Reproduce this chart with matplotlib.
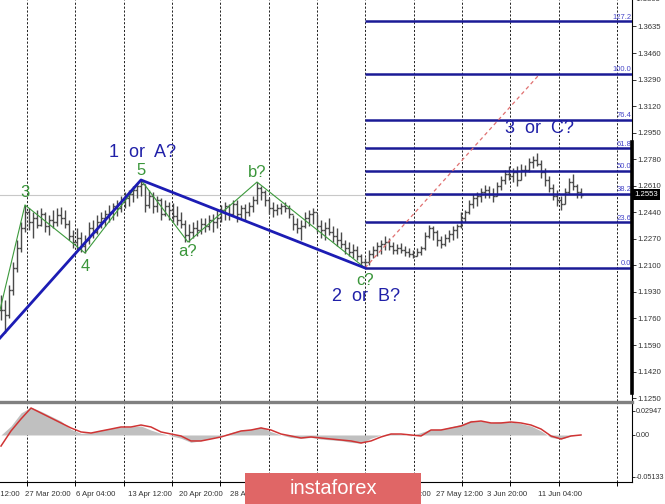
import numpy as np
import matplotlib.pyplot as plt
from matplotlib.patches import Rectangle
from matplotlib.lines import Line2D

plt.rcParams['font.family'] = ['Liberation Sans', 'DejaVu Sans']

# GBP/USD bars (high / low / close), one bar every 4 px of the screenshot
hi = [1.1911, 1.1879, 1.1975, 1.2122, 1.2263, 1.2379, 1.2488, 1.2468, 1.2443, 1.2456,
      1.2468, 1.2443, 1.2424, 1.2456, 1.2468, 1.2475, 1.2456, 1.2392, 1.2327, 1.2340,
      1.2315, 1.2295, 1.2379, 1.2392, 1.2424, 1.2443, 1.2456, 1.2488, 1.2500, 1.2520,
      1.2545, 1.2571, 1.2584, 1.2609, 1.2629, 1.2648, 1.2622, 1.2584, 1.2571, 1.2545,
      1.2533, 1.2520, 1.2507, 1.2500, 1.2481, 1.2443, 1.2392, 1.2366, 1.2379, 1.2392,
      1.2404, 1.2404, 1.2424, 1.2430, 1.2456, 1.2488, 1.2507, 1.2494, 1.2520, 1.2520,
      1.2488, 1.2494, 1.2507, 1.2545, 1.2635, 1.2609, 1.2584, 1.2533, 1.2507, 1.2494,
      1.2500, 1.2507, 1.2488, 1.2424, 1.2404, 1.2392, 1.2443, 1.2456, 1.2468, 1.2430,
      1.2392, 1.2379, 1.2404, 1.2353, 1.2340, 1.2315, 1.2263, 1.2250, 1.2238, 1.2225,
      1.2174, 1.2148, 1.2199, 1.2225, 1.2250, 1.2263, 1.2289, 1.2276, 1.2250, 1.2238,
      1.2244, 1.2225, 1.2212, 1.2199, 1.2212, 1.2225, 1.2315, 1.2359, 1.2353, 1.2327,
      1.2289, 1.2302, 1.2327, 1.2353, 1.2366, 1.2443, 1.2456, 1.2520, 1.2558, 1.2571,
      1.2597, 1.2616, 1.2609, 1.2597, 1.2635, 1.2674, 1.2712, 1.2738, 1.2725, 1.2738,
      1.2750, 1.2744, 1.2789, 1.2802, 1.2821, 1.2776, 1.2725, 1.2674, 1.2622, 1.2584,
      1.2545, 1.2597, 1.2661, 1.2686, 1.2622, 1.2597]
lo = [1.1751, 1.1667, 1.1763, 1.1911, 1.2058, 1.2186, 1.2315, 1.2327, 1.2276, 1.2340,
      1.2353, 1.2315, 1.2295, 1.2340, 1.2353, 1.2366, 1.2340, 1.2263, 1.2212, 1.2199,
      1.2186, 1.2180, 1.2238, 1.2276, 1.2302, 1.2340, 1.2353, 1.2379, 1.2392, 1.2417,
      1.2443, 1.2468, 1.2481, 1.2507, 1.2533, 1.2545, 1.2443, 1.2468, 1.2436, 1.2443,
      1.2392, 1.2417, 1.2392, 1.2379, 1.2359, 1.2340, 1.2250, 1.2250, 1.2276, 1.2289,
      1.2302, 1.2315, 1.2327, 1.2315, 1.2340, 1.2379, 1.2392, 1.2392, 1.2417, 1.2379,
      1.2404, 1.2392, 1.2417, 1.2443, 1.2494, 1.2520, 1.2481, 1.2430, 1.2411, 1.2424,
      1.2430, 1.2443, 1.2404, 1.2327, 1.2308, 1.2263, 1.2340, 1.2353, 1.2366, 1.2315,
      1.2276, 1.2263, 1.2295, 1.2250, 1.2225, 1.2212, 1.2174, 1.2161, 1.2148, 1.2135,
      1.2097, 1.2084, 1.2103, 1.2148, 1.2161, 1.2174, 1.2199, 1.2199, 1.2174, 1.2174,
      1.2180, 1.2161, 1.2154, 1.2148, 1.2161, 1.2167, 1.2199, 1.2276, 1.2263, 1.2225,
      1.2212, 1.2225, 1.2250, 1.2263, 1.2276, 1.2340, 1.2379, 1.2430, 1.2468, 1.2481,
      1.2507, 1.2533, 1.2533, 1.2507, 1.2545, 1.2584, 1.2622, 1.2648, 1.2635, 1.2609,
      1.2648, 1.2674, 1.2699, 1.2725, 1.2738, 1.2661, 1.2609, 1.2571, 1.2520, 1.2481,
      1.2456, 1.2494, 1.2558, 1.2584, 1.2533, 1.2533]
cl = [1.1815, 1.1783, 1.1943, 1.2084, 1.2212, 1.2340, 1.2443, 1.2379, 1.2404, 1.2359,
      1.2430, 1.2353, 1.2392, 1.2379, 1.2424, 1.2404, 1.2366, 1.2289, 1.2250, 1.2276,
      1.2225, 1.2263, 1.2340, 1.2315, 1.2379, 1.2404, 1.2430, 1.2443, 1.2481, 1.2468,
      1.2520, 1.2533, 1.2558, 1.2584, 1.2609, 1.2622, 1.2488, 1.2545, 1.2481, 1.2520,
      1.2430, 1.2481, 1.2456, 1.2417, 1.2392, 1.2366, 1.2295, 1.2315, 1.2340, 1.2327,
      1.2366, 1.2353, 1.2392, 1.2379, 1.2404, 1.2456, 1.2481, 1.2430, 1.2494, 1.2430,
      1.2468, 1.2443, 1.2481, 1.2520, 1.2597, 1.2571, 1.2520, 1.2468, 1.2456, 1.2468,
      1.2481, 1.2468, 1.2430, 1.2366, 1.2340, 1.2353, 1.2404, 1.2430, 1.2443, 1.2353,
      1.2327, 1.2340, 1.2315, 1.2289, 1.2263, 1.2238, 1.2212, 1.2186, 1.2199, 1.2161,
      1.2122, 1.2122, 1.2174, 1.2199, 1.2225, 1.2238, 1.2250, 1.2225, 1.2199, 1.2212,
      1.2199, 1.2186, 1.2174, 1.2161, 1.2186, 1.2212, 1.2289, 1.2340, 1.2315, 1.2263,
      1.2238, 1.2276, 1.2302, 1.2327, 1.2353, 1.2404, 1.2443, 1.2494, 1.2533, 1.2545,
      1.2571, 1.2584, 1.2558, 1.2545, 1.2609, 1.2648, 1.2686, 1.2674, 1.2699, 1.2648,
      1.2712, 1.2712, 1.2763, 1.2776, 1.2750, 1.2699, 1.2648, 1.2597, 1.2545, 1.2520,
      1.2494, 1.2571, 1.2635, 1.2609, 1.2571, 1.2553]
bid = 1.2553

# wave marking
big_x = [-0.25, 35, 91]
big_y = [1.1635, 1.2648, 1.2084]
small_x = [-0.25, 6, 21, 35, 46.75, 64, 91]
small_y = [1.1815, 1.2488, 1.2180, 1.2648, 1.2250, 1.2635, 1.2084]
small_lbl = ['', '3', '4', '5', 'a?', 'b?', 'c?']
red_x = [91, 134.25]
red_y = [1.2084, 1.3315]

# fibonacci grid
fib_lo = 1.2084
fib_hi = 1.3327
fib_lv = [0.0, 23.6, 38.2, 50.0, 61.8, 76.4, 100.0, 127.2]

# price scale labels
yt = [1.3635, 1.3460, 1.3290, 1.3120, 1.2950, 1.2780, 1.2610, 1.2440,
      1.2270, 1.2100, 1.1930, 1.1760, 1.1590, 1.1420, 1.1250]

# oscillator, one value every 2.5 bars
osc_x = list(np.arange(0, 146, 2.5))
hist = [0.0000, 0.0110, 0.0270, 0.0340, 0.0290, 0.0230, 0.0170, 0.0070, 0.0020, 0.0030,
        0.0060, 0.0080, 0.0100, 0.0100, 0.0110, 0.0060, 0.0020, -0.0010, -0.0040, -0.0090,
        -0.0070, -0.0040, -0.0010, 0.0030, 0.0060, 0.0070, 0.0100, 0.0040, 0.0000, -0.0030,
        -0.0040, -0.0030, -0.0050, -0.0060, -0.0070, -0.0090, -0.0100, -0.0040, 0.0000, 0.0020,
        0.0010, -0.0010, 0.0030, 0.0070, 0.0070, 0.0100, 0.0130, 0.0180, 0.0170, 0.0150,
        0.0160, 0.0160, 0.0140, 0.0110, 0.0050, -0.0030, -0.0050, -0.0010, 0.0000]
sig = [-0.0135, 0.0049, 0.0196, 0.0330, 0.0269, 0.0208, 0.0147, 0.0086, 0.0037, 0.0024,
       0.0049, 0.0073, 0.0098, 0.0098, 0.0122, 0.0098, 0.0037, 0.0012, -0.0012, -0.0073,
       -0.0073, -0.0049, -0.0024, 0.0012, 0.0049, 0.0061, 0.0086, 0.0061, 0.0012, -0.0012,
       -0.0037, -0.0024, -0.0037, -0.0049, -0.0061, -0.0073, -0.0098, -0.0073, -0.0024, 0.0012,
       0.0012, 0.0000, -0.0012, 0.0061, 0.0061, 0.0086, 0.0110, 0.0159, 0.0171, 0.0147,
       0.0147, 0.0159, 0.0147, 0.0122, 0.0073, -0.0012, -0.0049, -0.0012, 0.0000]

time_lbl = ['20 Mar 12:00', '27 Mar 20:00', '6 Apr 04:00', '13 Apr 12:00', '20 Apr 20:00',
            '28 Apr 04:00', '5 May 12:00', '12 May 20:00', '20 May 04:00', '27 May 12:00',
            '3 Jun 20:00', '11 Jun 04:00']

W, H = 665, 504
grid_x = [6.43, 18.5, 30.68, 42.75, 54.75, 66.9, 79, 91, 103.15, 115.25, 127.25, 139.4, 153.9]
lbl_px = [-26, 25, 76, 127.6, 179, 230, 281.5, 333, 384, 436, 487, 538]

fig = plt.figure(figsize=(W / 100, H / 100), dpi=100)
ax = fig.add_axes([0, 1 - 401 / H, 632 / W, 401 / H])
ax2 = fig.add_axes([0, 1 - 482 / H, 632 / W, 78 / H])

x = np.arange(len(cl))
op = [cl[0]] + cl[:-1]
bar_c = '#4a4a4a'
ax.vlines(x, lo, hi, color=bar_c, lw=1.0, zorder=3)
ax.hlines(op, x - 0.45, x, color=bar_c, lw=1.0, zorder=3)
ax.hlines(cl, x, x + 0.45, color=bar_c, lw=1.0, zorder=3)

dash = (0, (2.2, 1.8))
for a in (ax, ax2):
    for g in grid_x:
        a.axvline(g, color='#202020', lw=0.7, ls=dash, zorder=1)

ax.axhline(bid, color='#c8c8c8', lw=0.8, zorder=2)

# fibonacci levels
for lv in fib_lv:
    p = fib_lo + (fib_hi - fib_lo) * lv / 100
    ax.plot([91, 157.75], [p, p], color='#1a1a96', lw=1.8, zorder=4, solid_capstyle='butt')
    ax.text(157.6, p + 0.0004, f'{lv:.1f}', ha='right', va='bottom', fontsize=5.5,
            color='#4646c8', zorder=5)

ax.plot(red_x, red_y, color='#e07070', lw=0.9, ls=(0, (3, 2.5)), zorder=4)
ax.plot(small_x, small_y, color='#3c9a3c', lw=0.8, zorder=4)
ax.plot(big_x, big_y, color='#1c1cb4', lw=2.0, zorder=5)

green = '#3a963a'
offs = [0, 9, -10, 6.5, -6.5, 6.5, -9]
for xx, yy, t, o in zip(small_x, small_y, small_lbl, offs):
    if t:
        ax.annotate(t, (xx, yy), xytext=(0, o), textcoords='offset points',
                    ha='center', va='center', fontsize=12, color=green, zorder=6)

blue = '#2020a8'
ax.annotate('1  or  A?', (35.5, 1.2648), xytext=(0, 20), textcoords='offset points',
            ha='center', va='center', fontsize=13, color=blue, zorder=6)
ax.annotate('2  or  B?', (91.2, 1.2084), xytext=(0, -20.5), textcoords='offset points',
            ha='center', va='center', fontsize=13, color=blue, zorder=6)
ax.text(134.7, 1.2975, '3  or  C?', ha='center', va='center', fontsize=13, color=blue, zorder=6)

ax.set_xlim(-0.25, 157.75)
ax.set_ylim(1.1231, 1.3802)
ax.set_xticks([])
ax.yaxis.tick_right()
ax.set_yticks(yt)
ax.set_yticklabels([f'{v:.4f}' for v in yt])
ax.tick_params(axis='y', length=3, width=0.7, labelsize=5.6, pad=1.2, colors='#333333')
ax.text(1.0, 1.3805, '  1.3805', transform=ax.get_yaxis_transform(), ha='left', va='center',
        fontsize=5.6, color='#333333', clip_on=False)
for s in ('top', 'left', 'bottom'):
    ax.spines[s].set_visible(False)
ax.spines['right'].set_linewidth(0.8)
ax.plot([1, 1], [1 - 393 / 401, 1 - 142 / 401], transform=ax.transAxes, color='black',
        lw=2.6, clip_on=False, zorder=6)
ax.text(1.004, bid, '1.2553', transform=ax.get_yaxis_transform(), ha='left', va='center',
        fontsize=5.6, color='white', zorder=7,
        bbox=dict(boxstyle='square,pad=0.25', fc='black', ec='none'))

# oscillator
ax2.fill_between(osc_x, 0, hist, color='#c0c0c0', lw=0, zorder=2)
ax2.plot(osc_x, sig, color='#d03434', lw=1.1, zorder=3)
ax2.set_xlim(-0.25, 157.75)
ax2.set_ylim(-0.0575, 0.0379)
ax2.yaxis.tick_right()
ax2.set_yticks([0.02947, 0.0, -0.05133])
ax2.set_yticklabels(['0.02947', '0.00', '-0.05133'])
ax2.tick_params(axis='y', length=2, width=0.7, labelsize=5.2, pad=0.6, colors='#333333')
ax2.set_xticks(grid_x)
ax2.tick_params(axis='x', length=3, width=0.7, labelbottom=False)
for s in ('top', 'left'):
    ax2.spines[s].set_visible(False)
ax2.spines['right'].set_linewidth(0.8)
ax2.spines['bottom'].set_linewidth(0.8)

fig.add_artist(Line2D([0, 632 / W], [1 - 402 / H] * 2, color='#808080', lw=2.4))

for px, t in zip(lbl_px, time_lbl):
    fig.text(px / W, 1 - 494 / H, t, ha='left', va='center', fontsize=5.6, color='#333333')

fig.add_artist(Rectangle((245 / W, 0), 176 / W, 31 / H, transform=fig.transFigure,
                         facecolor='#e06666', edgecolor='none', zorder=10))
fig.text(333 / W, 1 - 488 / H, 'instaforex', ha='center', va='center', fontsize=14.5,
         color='white', zorder=11)

fig.savefig('out.png', dpi=100)
